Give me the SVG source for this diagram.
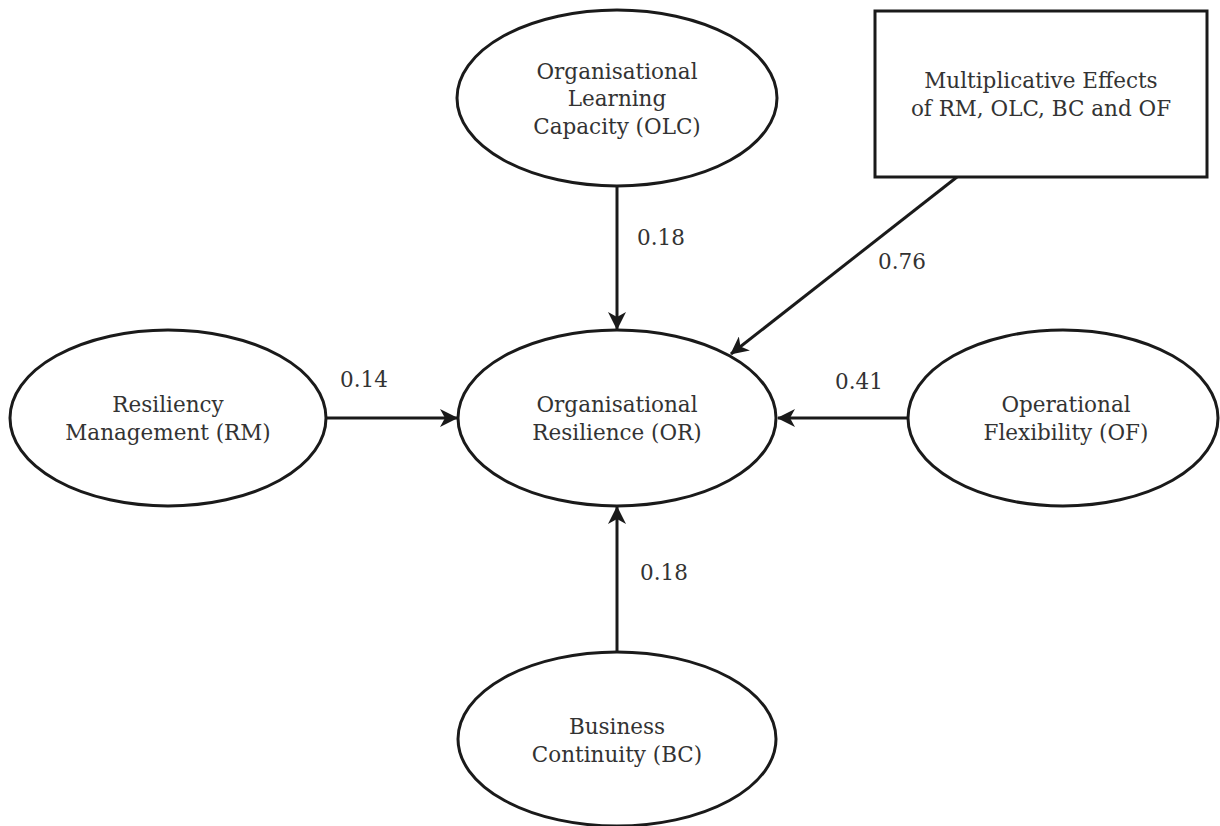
<svg xmlns="http://www.w3.org/2000/svg" width="1220" height="826" viewBox="0 0 1220 826">
<style>
.n{fill:#fff;stroke:#1a1a1a;stroke-width:3}
.t{font-family:"DejaVu Serif","Liberation Serif",serif;font-size:21.5px;fill:#333;text-anchor:middle}
.c{stroke:#1a1a1a;stroke-width:3;fill:none;marker-end:url(#ah)}
</style>
<defs>
<marker id="ah" viewBox="0 0 18 18" refX="17" refY="9" markerWidth="18" markerHeight="18" markerUnits="userSpaceOnUse" orient="auto">
<path d="M0,0 L18,9 L0,18 L5,9 Z" fill="#1a1a1a"/>
</marker>
</defs>
<rect width="1220" height="826" fill="#fff"/>
<g id="connectors">
<line class="c" x1="617" y1="186" x2="617" y2="329"/>
<line class="c" x1="957" y1="177" x2="731" y2="354"/>
<line class="c" x1="327" y1="418" x2="457" y2="418"/>
<line class="c" x1="908" y1="418" x2="778" y2="418"/>
<line class="c" x1="617" y1="652" x2="617" y2="507"/>
<text class="t" x="661" y="245">0.18</text>
<text class="t" x="902" y="269">0.76</text>
<text class="t" x="364" y="387">0.14</text>
<text class="t" x="859" y="389">0.41</text>
<text class="t" x="664" y="580">0.18</text>
</g>
<g id="OLC">
<ellipse class="n" cx="617" cy="98" rx="160" ry="88"/>
<text class="t" x="617" y="79">Organisational</text>
<text class="t" x="617" y="106">Learning</text>
<text class="t" x="617" y="134">Capacity (OLC)</text>
</g>
<g id="ME">
<rect class="n" x="875" y="11" width="332" height="166"/>
<text class="t" x="1041" y="88">Multiplicative Effects</text>
<text class="t" x="1041" y="116">of RM, OLC, BC and OF</text>
</g>
<g id="RM">
<ellipse class="n" cx="168" cy="418" rx="158" ry="88"/>
<text class="t" x="168" y="412">Resiliency</text>
<text class="t" x="168" y="440">Management (RM)</text>
</g>
<g id="OR">
<ellipse class="n" cx="617" cy="418" rx="159" ry="88"/>
<text class="t" x="617" y="412">Organisational</text>
<text class="t" x="617" y="440">Resilience (OR)</text>
</g>
<g id="OF">
<ellipse class="n" cx="1063" cy="418" rx="155" ry="88"/>
<text class="t" x="1066" y="412">Operational</text>
<text class="t" x="1066" y="440">Flexibility (OF)</text>
</g>
<g id="BC">
<ellipse class="n" cx="617" cy="739" rx="159" ry="87"/>
<text class="t" x="617" y="734">Business</text>
<text class="t" x="617" y="762">Continuity (BC)</text>
</g>
</svg>
